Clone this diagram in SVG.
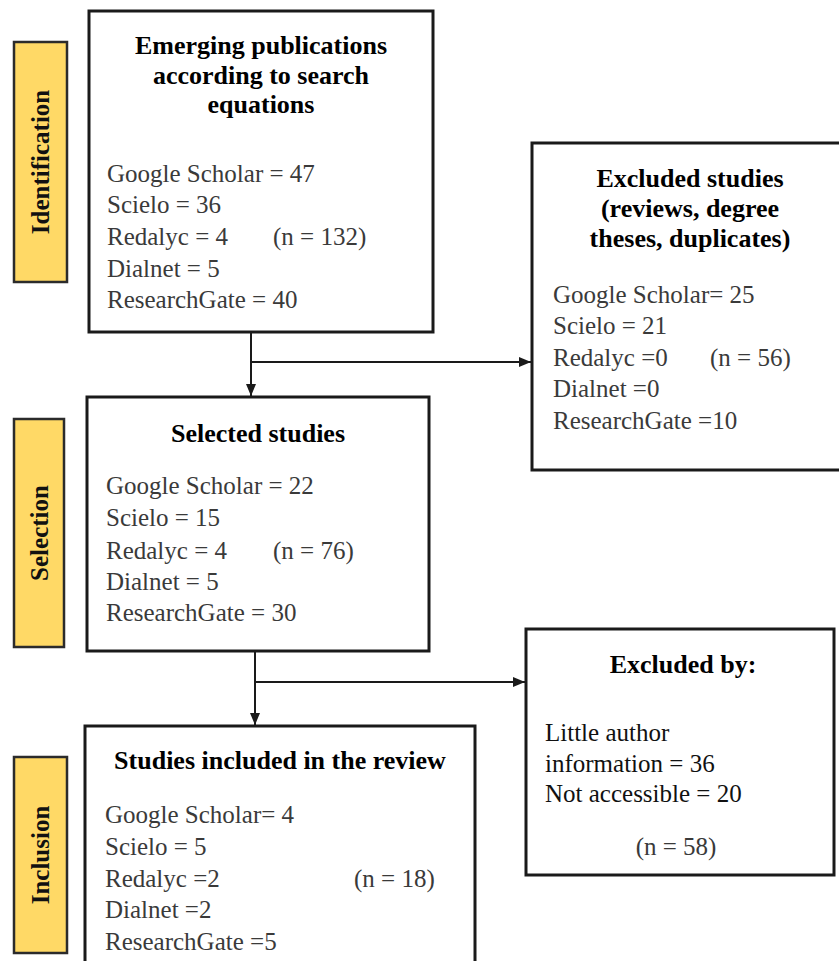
<svg xmlns="http://www.w3.org/2000/svg" width="839" height="961" viewBox="0 0 839 961">
<style>
.box{fill:#fff;stroke:#1a1a1a;stroke-width:3}
.tab{fill:#FFD966;stroke:#2b2b2b;stroke-width:2.5}
.tabt{font-family:"Liberation Serif",serif;font-weight:bold;font-size:25px;fill:#111;text-anchor:middle}
.ttl{font-family:"Liberation Serif",serif;font-weight:bold;font-size:26px;fill:#000;text-anchor:middle}
.bd{font-family:"Liberation Serif",serif;font-size:25px;fill:#3a3a3a}
.bk{fill:#111}
.con{stroke:#1a1a1a;stroke-width:2;fill:none}
</style>
<defs>
<marker id="ah" markerWidth="12" markerHeight="10" refX="12" refY="5" orient="auto" markerUnits="userSpaceOnUse">
<path d="M0,0 L12,5 L0,10 Z" fill="#1a1a1a"/>
</marker>
</defs>
<rect width="839" height="961" fill="#fff"/>

<g id="tab-identification">
<rect class="tab" x="14" y="42" width="53" height="240"/>
<text class="tabt" transform="translate(49,162) rotate(-90)">Identification</text>
</g>
<g id="tab-selection">
<rect class="tab" x="14" y="419" width="50" height="228"/>
<text class="tabt" transform="translate(48,533) rotate(-90)">Selection</text>
</g>
<g id="tab-inclusion">
<rect class="tab" x="14" y="757" width="53" height="196"/>
<text class="tabt" transform="translate(49,855) rotate(-90)">Inclusion</text>
</g>

<g id="connectors">
<line class="con" x1="251" y1="332" x2="251" y2="396" marker-end="url(#ah)"/>
<line class="con" x1="251" y1="362" x2="531" y2="362" marker-end="url(#ah)"/>
<line class="con" x1="255" y1="651" x2="255" y2="725" marker-end="url(#ah)"/>
<line class="con" x1="255" y1="682" x2="525" y2="682" marker-end="url(#ah)"/>
</g>

<g id="node-emerging">
<rect class="box" x="89" y="11" width="344" height="321"/>
<text class="ttl" x="261" y="54">Emerging publications</text>
<text class="ttl" x="261" y="84">according to search</text>
<text class="ttl" x="261" y="113">equations</text>
<text class="bd" x="107" y="182">Google Scholar = 47</text>
<text class="bd" x="107" y="213">Scielo = 36</text>
<text class="bd" x="107" y="245">Redalyc = 4</text>
<text class="bd" x="273" y="245">(n = 132)</text>
<text class="bd" x="107" y="277">Dialnet = 5</text>
<text class="bd" x="107" y="308">ResearchGate = 40</text>
</g>

<g id="node-excluded-studies">
<rect class="box" x="532" y="143" width="312" height="327"/>
<text class="ttl" x="690" y="187">Excluded studies</text>
<text class="ttl" x="690" y="217">(reviews, degree</text>
<text class="ttl" x="690" y="247">theses, duplicates)</text>
<text class="bd" x="553" y="303">Google Scholar= 25</text>
<text class="bd" x="553" y="334">Scielo = 21</text>
<text class="bd" x="553" y="366">Redalyc =0</text>
<text class="bd" x="710" y="366">(n = 56)</text>
<text class="bd" x="553" y="397">Dialnet =0</text>
<text class="bd" x="553" y="429">ResearchGate =10</text>
</g>

<g id="node-selected">
<rect class="box" x="87" y="397" width="342" height="254"/>
<text class="ttl" x="258" y="442">Selected studies</text>
<text class="bd" x="106" y="494">Google Scholar = 22</text>
<text class="bd" x="106" y="526">Scielo = 15</text>
<text class="bd" x="106" y="559">Redalyc = 4</text>
<text class="bd" x="273" y="559">(n = 76)</text>
<text class="bd" x="106" y="590">Dialnet = 5</text>
<text class="bd" x="106" y="621">ResearchGate = 30</text>
</g>

<g id="node-excluded-by">
<rect class="box" x="526" y="629" width="308" height="246"/>
<text class="ttl" x="683" y="673">Excluded by:</text>
<text class="bd bk" x="545" y="741">Little author</text>
<text class="bd bk" x="545" y="772">information = 36</text>
<text class="bd bk" x="545" y="802">Not accessible = 20</text>
<text class="bd" x="676" y="855" text-anchor="middle">(n = 58)</text>
</g>

<g id="node-included">
<rect class="box" x="85" y="726" width="390" height="250"/>
<text class="ttl" x="280" y="769">Studies included in the review</text>
<text class="bd" x="105" y="823">Google Scholar= 4</text>
<text class="bd" x="105" y="855">Scielo = 5</text>
<text class="bd" x="105" y="887">Redalyc =2</text>
<text class="bd" x="354" y="887">(n  = 18)</text>
<text class="bd" x="105" y="918">Dialnet =2</text>
<text class="bd" x="105" y="950">ResearchGate =5</text>
</g>
</svg>
